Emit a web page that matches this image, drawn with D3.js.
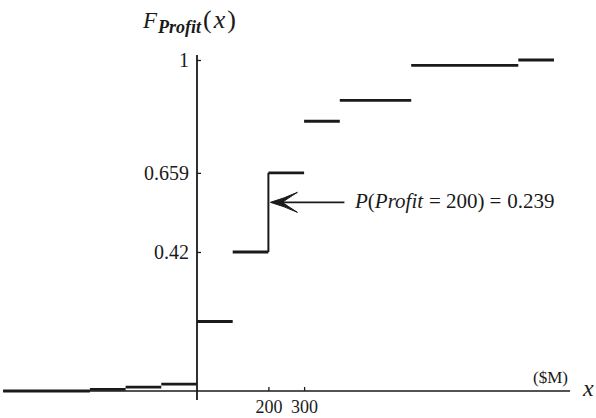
<!DOCTYPE html>
<html><head><meta charset="utf-8">
<script src="https://cdn.jsdelivr.net/npm/d3@7"></script>
<style>
html,body{margin:0;padding:0;background:#fff;}
svg{display:block;}
svg text{font-family:"Liberation Serif","Times New Roman",serif;}
</style></head>
<body>
<script>
// Step segments of the CDF: each segment [segStart, segEnd] at height cdf
const segStart = [-543, -300, -200, -100, 0, 100, 200, 300, 400, 600, 900];
const segEnd   = [-300, -200, -100, 0, 100, 200, 300, 400, 600, 900, 1000];
const cdf      = [0, 0.005, 0.012, 0.021, 0.21, 0.42, 0.659, 0.815, 0.878, 0.984, 1];
const xTicks = [200, 300];
const yTicks = [0.42, 0.659, 1];
const jumpAt = 200, jumpFrom = 0.42, jumpTo = 0.659;

const W = 596, H = 418;
const serif = "Liberation Serif";
const svg = d3.select("body").append("svg").attr("width", W).attr("height", H);
const x = d3.scaleLinear().domain([0, 1000]).range([197, 554]);
const y = d3.scaleLinear().domain([0, 1]).range([391, 60]);
const ink = "#1a1a1a";

// axes lines
svg.append("line").attr("x1", x(-543)).attr("x2", x(1045)).attr("y1", y(0)).attr("y2", y(0))
  .attr("stroke", ink).attr("stroke-width", 1.6);
svg.append("line").attr("x1", x(0)).attr("x2", x(0)).attr("y1", y(1.015)).attr("y2", y(-0.027))
  .attr("stroke", ink).attr("stroke-width", 1.8);

// x axis ticks
const xa = svg.append("g").attr("transform", `translate(0,${y(0)})`)
  .call(d3.axisBottom(x).tickValues(xTicks).tickSizeInner(-4).tickSizeOuter(0).tickPadding(9).tickFormat(d3.format("d")));
xa.attr("font-family", serif);
xa.select(".domain").remove();
xa.selectAll("line").attr("stroke", ink).attr("stroke-width", 1.3);
xa.selectAll("text").attr("font-family", serif).attr("font-size", 18).attr("fill", ink);

// y axis ticks
const ya = svg.append("g").attr("transform", `translate(${x(0)},0)`)
  .call(d3.axisLeft(y).tickValues(yTicks).tickSizeInner(-4).tickSizeOuter(0).tickPadding(8).tickFormat(d => String(d)));
ya.attr("font-family", serif);
ya.select(".domain").remove();
ya.selectAll("line").attr("stroke", ink).attr("stroke-width", 1.3);
ya.selectAll("text").attr("font-family", serif).attr("font-size", 20).attr("fill", ink);

// step segments
svg.append("g").selectAll("line").data(cdf).join("line")
  .attr("x1", (d, i) => x(segStart[i])).attr("x2", (d, i) => x(segEnd[i]))
  .attr("y1", d => y(d)).attr("y2", d => y(d))
  .attr("stroke", ink).attr("stroke-width", 2.8);

// vertical riser at the jump
svg.append("line").attr("x1", x(jumpAt)).attr("x2", x(jumpAt))
  .attr("y1", y(jumpFrom)).attr("y2", y(jumpTo))
  .attr("stroke", ink).attr("stroke-width", 2);

// arrow
const ay = y(0.57);
const tipX = x(jumpAt) + 2;
svg.append("line").attr("x1", tipX + 4).attr("x2", tipX + 74).attr("y1", ay).attr("y2", ay)
  .attr("stroke", ink).attr("stroke-width", 1.6);
svg.append("path")
  .attr("d", `M${tipX},${ay} Q${tipX + 14},${ay - 4} ${tipX + 27},${ay - 10} Q${tipX + 16},${ay - 3} ${tipX + 12},${ay} Q${tipX + 16},${ay + 3} ${tipX + 27},${ay + 10} Q${tipX + 14},${ay + 4} ${tipX},${ay} Z`)
  .attr("fill", ink).attr("stroke", ink).attr("stroke-width", 1);

// annotation text
const at = svg.append("text").attr("x", 355).attr("y", ay + 6).attr("font-family", serif)
  .attr("font-size", 21).attr("fill", ink);
at.append("tspan").attr("font-style", "italic").text("P");
at.append("tspan").text("(");
at.append("tspan").attr("font-style", "italic").text("Profit");
at.append("tspan").attr("dx", 6).text("=");
at.append("tspan").attr("dx", 5).text("200)");
at.append("tspan").attr("dx", 5).text("=");
at.append("tspan").attr("dx", 6).text("0.239");

// title
const t = svg.append("text").attr("x", 143).attr("y", 28).attr("font-family", serif).attr("fill", ink);
t.append("tspan").attr("font-style", "italic").attr("font-size", 23).text("F");
t.append("tspan").attr("font-style", "italic").attr("font-weight", "bold").attr("font-size", 18).attr("dy", 5).attr("dx", 1).text("Profit");
t.append("tspan").attr("font-size", 26).attr("dy", -5).attr("dx", 2).text("(");
t.append("tspan").attr("font-size", 26).attr("font-style", "italic").attr("dx", 2).text("x");
t.append("tspan").attr("font-size", 26).attr("dx", 2).text(")");

// x axis unit and label
svg.append("text").attr("x", 568).attr("y", 383).attr("text-anchor", "end").attr("font-family", serif)
  .attr("font-size", 17).attr("fill", ink).text("($M)");
svg.append("text").attr("x", 583).attr("y", 396).attr("font-size", 24).attr("font-style", "italic")
  .attr("font-family", serif).attr("fill", ink).text("x");
</script>
</body></html>
